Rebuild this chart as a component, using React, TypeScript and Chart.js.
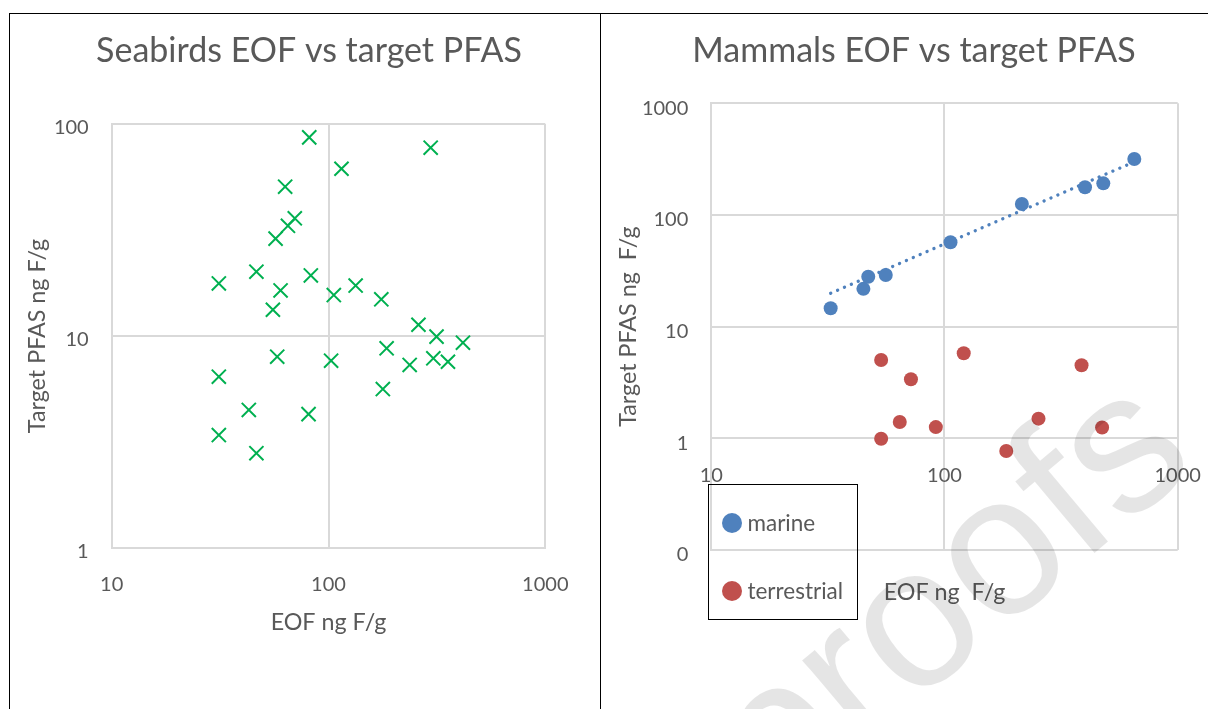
import React, { useEffect, useRef } from 'react';
import { Chart, registerables } from 'chart.js';

Chart.register(...registerables);

// ---------- data ----------
const seabirdsTitle = 'Seabirds EOF vs target PFAS';
const seabirdsEOF = [81.5, 296, 114.8, 63.1, 69.9, 65.0, 57.0, 31.2, 46.5, 82.9, 60.1, 133.4, 105.8, 175.2, 55.4, 260, 315, 417, 185.4, 58.0, 102.8, 236.8, 304.5, 355.6, 31.2, 178.1, 42.9, 80.9, 31.2, 46.5];
const seabirdsPFAS = [86.5, 77.3, 61.5, 50.6, 35.9, 33.1, 28.8, 17.7, 20.1, 19.3, 16.4, 17.3, 15.6, 14.9, 13.3, 11.3, 9.93, 9.3, 8.75, 7.99, 7.65, 7.3, 7.85, 7.56, 6.43, 5.62, 4.48, 4.28, 3.41, 2.8];

const mammalsTitle = 'Mammals EOF vs target PFAS';
const marineEOF = [32.5, 44.9, 47.1, 56.0, 106.1, 214.7, 400.4, 479.7, 651.5];
const marinePFAS = [14.6, 21.8, 28.0, 29.0, 57.0, 125.5, 177, 192, 317];
const terrestrialEOF = [53.5, 120.9, 387, 71.8, 64.3, 91.8, 253, 474, 53.5, 184];
const terrestrialPFAS = [5.03, 5.78, 4.51, 3.38, 1.4, 1.26, 1.5, 1.25, 0.99, 0.77];
const marineTrendEOF = [32.5, 651.5];
const marineTrendPFAS = [19.9, 299];

const eofTicks = [10, 100, 1000];
const eofTickLabels = ['10', '100', '1000'];
const seabirdsPfasTicks = [1, 10, 100];
const seabirdsPfasTickLabels = ['1', '10', '100'];
const mammalsPfasTicks = [0.1, 1, 10, 100, 1000];
const mammalsPfasTickLabels = ['0', '1', '10', '100', '1000'];

const seriesLabels = ['marine', 'terrestrial'];
const seabirdsXTitle = 'EOF ng F/g';
const seabirdsYTitle = 'Target PFAS ng F/g';
const mammalsXTitle = 'EOF ng  F/g';
const mammalsYTitle = 'Target PFAS ng  F/g';

// ---------- styles ----------
const TEXT = '#595959';
const GRID = '#D9D9D9';
const GREEN = '#00B050';
const BLUE = '#4F81BD';
const RED = '#C0504D';
const FONT = 'Lato';
const TICK_SIZE = 20;
const AXIS_TITLE_SIZE = 23.3;
const TITLE_SIZE = 34;

const toPoints = (xs: number[], ys: number[]) => xs.map((x, i) => ({ x, y: ys[i] }));

function logAxis(o: any) {
  return {
    type: 'logarithmic',
    position: o.position,
    min: o.min,
    max: o.max,
    afterBuildTicks: (s: any) => {
      s.ticks = o.ticks.map((v: number) => ({ value: v }));
    },
    afterFit: (s: any) => {
      if (o.width != null) s.width = o.width;
      if (o.height != null) s.height = o.height;
    },
    grid: { color: GRID, lineWidth: 2, drawTicks: false },
    border: { color: GRID, width: 2 },
    ticks: {
      autoSkip: false,
      maxRotation: 0,
      minRotation: 0,
      color: TEXT,
      font: { family: FONT, size: TICK_SIZE },
      padding: o.tickPadding,
      labelOffset: o.labelOffset || 0,
      callback: (_v: any, i: number) => o.labels[i],
    },
    title: {
      display: true,
      text: o.title,
      color: TEXT,
      font: { family: FONT, size: AXIS_TITLE_SIZE },
      padding: { top: 0, bottom: 0 },
    },
  };
}

const spacerAxis = (w: number) => ({
  type: 'linear',
  position: 'right',
  display: true,
  grid: { display: false, drawTicks: false },
  border: { display: false },
  ticks: { display: false },
  title: { display: false },
  afterFit: (s: any) => {
    s.width = w;
  },
});

const titlePlugin = (text: string, top: number, bottom: number) => ({
  display: true,
  text,
  color: TEXT,
  font: { family: FONT, size: TITLE_SIZE, weight: 'normal' },
  padding: { top, bottom },
});

const seabirdsConfig: any = {
  type: 'scatter',
  data: {
    datasets: [
      {
        label: 'seabirds',
        data: toPoints(seabirdsEOF, seabirdsPFAS),
        pointStyle: 'crossRot',
        pointRadius: 10,
        pointHoverRadius: 10,
        pointBorderWidth: 2,
        pointBorderColor: GREEN,
        pointBackgroundColor: GREEN,
      },
    ],
  },
  options: {
    animation: false,
    responsive: false,
    devicePixelRatio: 1,
    events: [],
    layout: { padding: { left: 13.6, right: 5.6, top: 0, bottom: 72.2 } },
    plugins: {
      legend: { display: false },
      tooltip: { enabled: false },
      title: titlePlugin(seabirdsTitle, 16.6, 52.6),
    },
    scales: {
      x: logAxis({ position: 'bottom', min: 10, max: 1000, ticks: eofTicks, labels: eofTickLabels, title: seabirdsXTitle, tickPadding: 25, height: 88.8 }),
      y: logAxis({ position: 'left', min: 1, max: 100, ticks: seabirdsPfasTicks, labels: seabirdsPfasTickLabels, title: seabirdsYTitle, tickPadding: 23, labelOffset: 4, width: 88.1 }),
      spacer: spacerAxis(49.1),
    },
  },
};

const mammalsConfig: any = {
  type: 'scatter',
  data: {
    datasets: [
      {
        label: seriesLabels[0],
        data: toPoints(marineEOF, marinePFAS),
        pointStyle: 'circle',
        pointRadius: 7,
        pointHoverRadius: 7,
        pointBorderWidth: 0,
        pointBackgroundColor: BLUE,
        pointBorderColor: BLUE,
      },
      {
        label: seriesLabels[1],
        data: toPoints(terrestrialEOF, terrestrialPFAS),
        pointStyle: 'circle',
        pointRadius: 7,
        pointHoverRadius: 7,
        pointBorderWidth: 0,
        pointBackgroundColor: RED,
        pointBorderColor: RED,
      },
      {
        label: 'trend',
        data: toPoints(marineTrendEOF, marineTrendPFAS),
        showLine: true,
        borderColor: BLUE,
        borderWidth: 3.3,
        borderDash: [0.1, 7.4],
        borderCapStyle: 'round',
        pointRadius: 0,
        pointHoverRadius: 0,
        fill: false,
      },
    ],
  },
  options: {
    animation: false,
    responsive: false,
    devicePixelRatio: 1,
    events: [],
    layout: { padding: { left: 12.2, right: 28.2, top: 0, bottom: 159 } },
    plugins: {
      legend: { display: false },
      tooltip: { enabled: false },
      title: titlePlugin(mammalsTitle, 16.6, 31.9),
    },
    scales: {
      x: logAxis({ position: { y: 1 }, min: 10, max: 1000, ticks: eofTicks, labels: eofTickLabels, title: mammalsXTitle, tickPadding: 25, height: 168.5 }),
      y: logAxis({ position: 'left', min: 0.1, max: 1000, ticks: mammalsPfasTicks, labels: mammalsPfasTickLabels, title: mammalsYTitle, tickPadding: 23, labelOffset: 5, width: 97.1 }),
      spacer: spacerAxis(36.1),
    },
  },
};

function ChartCanvas({ config, left, top, width, height }: any) {
  const ref = useRef<HTMLCanvasElement>(null);
  useEffect(() => {
    const chart = new Chart(ref.current as HTMLCanvasElement, config);
    return () => chart.destroy();
  }, [config]);
  return (
    <canvas
      ref={ref}
      width={width}
      height={height}
      style={{ position: 'absolute', left, top, width, height }}
    />
  );
}

const legendColors = [BLUE, RED];
const legendRowCenters = [523.3, 591.3];

export default function App() {
  return (
    <div
      style={{
        position: 'absolute',
        left: 0,
        top: 0,
        width: 1208,
        height: 709,
        overflow: 'hidden',
        background: '#fff',
      }}
    >
      <ChartCanvas config={seabirdsConfig} left={10} top={14} width={590} height={695} />
      <ChartCanvas config={mammalsConfig} left={602} top={14} width={640} height={695} />

      {/* table borders */}
      <div style={{ position: 'absolute', left: 9, top: 13, width: 1199, height: 1, background: '#000' }} />
      <div style={{ position: 'absolute', left: 9, top: 13, width: 1, height: 696, background: '#000' }} />
      <div style={{ position: 'absolute', left: 600, top: 13, width: 1, height: 696, background: '#000' }} />

      {/* legend */}
      <div
        style={{
          position: 'absolute',
          left: 708,
          top: 483.5,
          width: 150,
          height: 136,
          border: '1px solid #000',
          boxSizing: 'border-box',
        }}
      />
      {seriesLabels.map((label, i) => (
        <div
          key={label}
          style={{
            position: 'absolute',
            left: 722.2,
            top: legendRowCenters[i] - 15,
            height: 30,
            display: 'flex',
            alignItems: 'center',
            gap: 5.3,
            fontFamily: FONT,
            fontSize: 22.5,
            lineHeight: '30px',
            color: TEXT,
            whiteSpace: 'pre',
          }}
        >
          <span
            style={{
              display: 'inline-block',
              width: 20,
              height: 20,
              borderRadius: '50%',
              background: legendColors[i],
            }}
          />
          <span>{label}</span>
        </div>
      ))}

      {/* watermark */}
      <div
        style={{
          position: 'absolute',
          left: 943,
          top: 590,
          transform: 'translate(-50%, -50%) rotate(-40deg)',
          fontFamily: '"Liberation Sans", Arial, sans-serif',
          fontSize: 200,
          lineHeight: 1,
          color: 'rgba(0,0,0,0.1)',
          whiteSpace: 'nowrap',
          pointerEvents: 'none',
        }}
      >
        proofs
      </div>
    </div>
  );
}
